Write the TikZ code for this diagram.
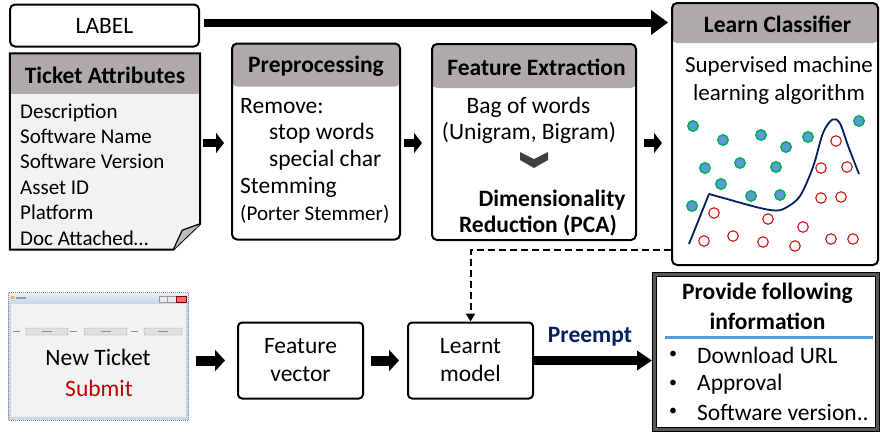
\documentclass[tikz,border=0pt]{standalone}
\usepackage{fontspec}
\setmainfont{Carlito}
\usetikzlibrary{positioning,arrows.meta}
\definecolor{hdrgray}{HTML}{AEAAAA}
\definecolor{docgray}{HTML}{F2F2F2}
\definecolor{navy}{HTML}{002060}
\definecolor{dotblue}{HTML}{5B9BD5}
\definecolor{dotgreen}{HTML}{00B050}
\definecolor{ringred}{HTML}{D01010}
\definecolor{subred}{HTML}{C00000}
\definecolor{winblue}{HTML}{C9D8EC}

\begin{document}
\begin{tikzpicture}[x=1pt,y=-1pt,
  every node/.style={font=\fontsize{23.5}{28}\selectfont},
  box/.style={draw,line width=2pt,rounded corners=5pt,fill=white,inner sep=0pt},
  hdrbox/.style={box,path picture={\fill[hdrgray] (path picture bounding box.north west) rectangle ([yshift=-#1]path picture bounding box.north east);}},
  title/.style={font=\fontsize{23.5}{28}\selectfont\bfseries},
  ln/.style={anchor=west,inner sep=0pt},
  sblk/.style={line width=8pt,-{Triangle[length=8pt,width=20pt]}},
  bblk/.style={line width=10pt,-{Triangle[length=10pt,width=21pt]}},
  dot/.style={circle,draw=dotgreen,fill=dotblue,line width=1.4pt,minimum size=10.5pt,inner sep=0pt},
  ring/.style={circle,draw=ringred,fill=white,line width=1.1pt,minimum size=10.5pt,inner sep=0pt},
  curv/.style={navy,line width=1.8pt,line join=round}
]
\useasboundingbox (0,0) rectangle (880,432);

% label
\node[box,minimum width=189pt,minimum height=42pt] (lbl) at (104.5,25.5) {LABEL};

% ticket attributes (document)
\node[minimum width=190pt,minimum height=196pt,inner sep=0pt] (tick) at (105,151.5) {};
\fill[docgray] (tick.north west) -- (tick.north east) -- ([yshift=26pt]tick.south east)
  -- ([xshift=-27pt]tick.south east) -- (tick.south west) -- cycle;
\fill[hdrgray] (tick.north west) rectangle ([yshift=-41pt]tick.north east);
\draw[line width=2pt] (tick.north west) -- (tick.north east) -- ([yshift=26pt]tick.south east)
  -- ([xshift=-27pt]tick.south east) -- (tick.south west) -- cycle;
\draw[line width=1.2pt,fill=hdrgray!80,line join=round] ([xshift=-27pt]tick.south east)
  -- ([xshift=-18pt,yshift=19.5pt]tick.south east) -- ([yshift=26pt]tick.south east);
\node[title] (tickT) at (105,75) {Ticket Attributes};
\node[font=\fontsize{21}{25.4}\selectfont,align=left,ln] (tickL) at (20,174.5)
  {Description\\Software Name\\Software Version\\Asset ID\\Platform\\Doc Attached…};

% preprocessing
\node[hdrbox=43pt,minimum width=168pt,minimum height=196pt] (pre) at (316,141.5) {};
\node[title] (preT) at (316,66) {Preprocessing};
\node[ln] (rm) at (240,106) {Remove:};
\node[ln] (sw) at (269,133) {stop words};
\node[ln] (sc) at (269,160) {special char};
\node[ln] (st) at (240,187) {Stemming};
\node[ln,font=\fontsize{21}{25}\selectfont] (ps) at (240,214) {(Porter Stemmer)};

% feature extraction
\node[hdrbox=44pt,minimum width=204pt,minimum height=196pt] (fe) at (534,142) {};
\node[title] (feT) at (536.5,67) {Feature Extraction};
\node (bow) at (528.5,107) {Bag of words};
\node (ngr) at (529,133) {(Unigram, Bigram)};
\fill[black!75] (520,152) -- (534,159) -- (548,152) -- (548,160) -- (534,168) -- (520,160) -- cycle;
\node[title] (dim) at (552,200) {Dimensionality};
\node[title] (pca) at (538,226) {Reduction (PCA)};

% learn classifier
\node[hdrbox=40pt,minimum width=206pt,minimum height=262pt] (lc) at (775,134) {};
\node[title] (lcT) at (777.5,24) {Learn Classifier};
\node[align=center,font=\fontsize{23}{28}\selectfont] (sup) at (779,80) {Supervised machine\\learning algorithm};
\draw[curv] (689,244) -- (709,194) -- plot[smooth,tension=.55] coordinates {(727,199) (760,208) (777,210.5) (787,207) (800,196) (813,167) (823,133) (832.5,119.5) (840,123.5) (848.5,147) (859,174)};
\foreach \px/\py in {693/126,723/140,761/135,786/147,808/137,859/121,705/168,740/163,776/167,721/184,751/196,780/195,692/206}
  \node[dot] at (\px,\py) {};
\foreach \px/\py in {836/141,821/168,847/167,821/198,841/197,714/213,768/219,803/227,704/241,733/236,763/242,795/246,831/239,853/239}
  \node[ring] at (\px,\py) {};

% top arrows
\draw[line width=8pt,-{Triangle[length=17pt,width=24pt]},shorten <=4pt,shorten >=3pt]
  ([yshift=3pt]lbl.east) -- ([yshift=3pt]lbl.east -| lc.west);
\draw[sblk,shorten <=3pt,shorten >=7pt] (tick.east |- 0,143) -- (pre.west |- 0,143);
\draw[sblk,shorten <=3pt,shorten >=9pt] (pre.east |- 0,143) -- (fe.west |- 0,143);
\draw[sblk,shorten <=7pt,shorten >=9pt] (fe.east |- 0,143) -- (lc.west |- 0,143);

% new ticket window
\node[minimum width=180pt,minimum height=127pt,inner sep=0pt] (win) at (98.5,356.5) {};
\fill[winblue] (win.south west) rectangle (win.north east);
\shade[top color=winblue!50,bottom color=winblue] ([yshift=-1pt]win.north west) rectangle ([yshift=-10pt]win.north east);
\fill[black!5] ([xshift=3pt,yshift=-11pt]win.north west) rectangle ([xshift=-3pt,yshift=3pt]win.south east);
\draw[black!50,densely dotted,line width=1pt] (win.south west) rectangle (win.north east);
\fill[orange!70] (11,296) rectangle (14,299);
\fill[black!40] (16,297) rectangle (26,298.5);
\draw[black!40,fill=black!8] (159,296) rectangle (167,302);
\draw[black!40,fill=black!8] (167,296) rectangle (176,302);
\draw[red!50!black,fill=red!60] (176,296) rectangle (186,302);
\foreach \lx/\bx/\bw in {13/26/42,70/84/43,131/144/38} {
  \fill[black!45] (\lx,330.5) rectangle ++(7,1.5);
  \draw[black!35,fill=black!12,rounded corners=1pt] (\bx,328) rectangle ++(\bw,7);
  \fill[black!45] (\bx+\bw/2-5,330.8) rectangle ++(10,1.4);
}
\node (nt) at (98,357) {New Ticket};
\node[text=subred] (sub) at (99,388) {Submit};

% bottom row
\node[box,rounded corners=4pt,minimum width=125pt,minimum height=76pt,align=center] (fv) at (300.5,360.5) {Feature\\vector};
\node[box,rounded corners=4pt,minimum width=125pt,minimum height=76pt,align=center] (lm) at (470.5,360.5) {Learnt\\model};
\node[draw=black,double=black!65,double distance=3pt,line width=1pt,fill=white,minimum width=223pt,minimum height=155pt,inner sep=0pt] (info) at (766,351.5) {};
\node[title,align=center,font=\fontsize{23.5}{30}\selectfont\bfseries] (infoT) at (767.5,306.5) {Provide following\\information};
\draw[dotblue,line width=2.5pt] (665,337.5) -- (873,337.5);
\foreach \ty/\tx [count=\i] in {355/Download URL,384/Approval,412/Software version..} {
  \node[font=\fontsize{16}{16}\selectfont] (b\i) at (673,\ty) {\textbullet};
  \node[ln] (t\i) at (697,\ty) {\tx};
}

\draw[bblk,shorten <=7pt,shorten >=12pt] (win.east |- fv.west) -- (fv.west);
\draw[bblk,shorten <=7pt,shorten >=8pt] (fv.east) -- (lm.west);
\draw[line width=9pt,-{Triangle[length=15pt,width=19pt]},shorten >=2pt] (lm.east) -- (lm.east -| info.west);
\node[title,text=navy] (pe) at (590,337) {Preempt};
\draw[dashed,dash pattern=on 7pt off 4pt,line width=2pt,-{Triangle[length=8pt,width=9pt]}]
  ([yshift=16pt]lc.south west) -| (lm.north);
\end{tikzpicture}
\end{document}
